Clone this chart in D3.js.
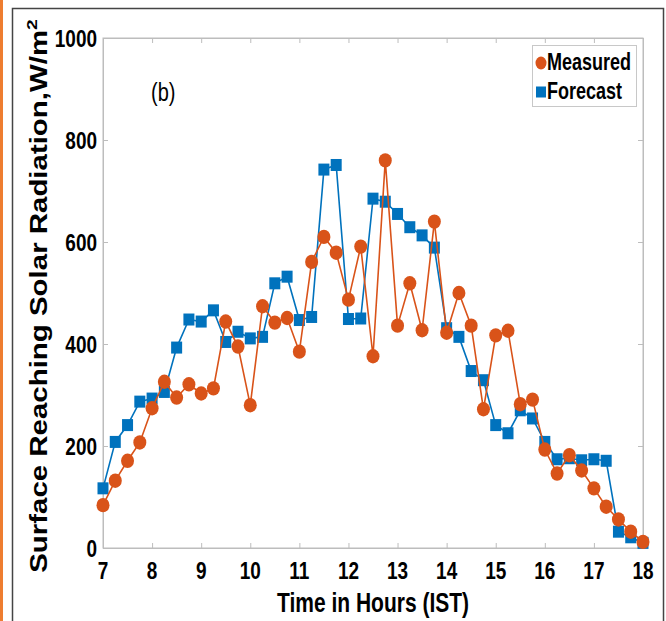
<!DOCTYPE html>
<html><head><meta charset="utf-8">
<script src="https://cdn.jsdelivr.net/npm/d3@7"></script>
<style>body{margin:0;background:#fff}svg{display:block}</style>
</head><body>
<svg id="c" width="666" height="621"></svg>
<script>
const times = [7,7.25,7.5,7.75,8,8.25,8.5,8.75,9,9.25,9.5,9.75,10,10.25,10.5,10.75,11,11.25,11.5,11.75,12,12.25,12.5,12.75,13,13.25,13.5,13.75,14,14.25,14.5,14.75,15,15.25,15.5,15.75,16,16.25,16.5,16.75,17,17.25,17.5,17.75,18];
const measured = [84,132,171,207,274,326,295,321,303,313,444,395,280,474,442,451,385,561,610,579,487,591,376,760,436,519,427,640,422,500,436,272,417,426,282,291,193,146,182,152,117,81,56,32,12];
const forecast = [117,208,241,287,293,306,393,448,444,466,404,424,411,414,519,532,447,453,742,751,449,450,685,679,655,629,613,589,431,414,347,329,241,225,270,254,208,174,176,172,174,171,32,21,10];
const xTicks = [7,8,9,10,11,12,13,14,15,16,17,18];
const yTicks = [0,200,400,600,800,1000];
const seriesNames = ["Measured","Forecast"];

const svg = d3.select("#c");
const FONT = "'Liberation Sans', Arial, sans-serif";
const S = 1.3; // vertical stretch of the reference's text

// frame
svg.append("rect").attr("x",0).attr("y",0).attr("width",3).attr("height",621).attr("fill","#ee7d30");
svg.append("path").attr("d","M12.5,621V8.5H663.5V621").attr("fill","none").attr("stroke","#444").attr("stroke-width",1.5);

const x = d3.scaleLinear().domain([7,18]).range([103,643]);
const y = d3.scaleLinear().domain([0,1000]).range([548,38]);

const axisCol = "#bdbdbd";
svg.append("rect").attr("x",x(7)).attr("y",y(1000)).attr("width",x(18)-x(7)).attr("height",y(0)-y(1000))
  .attr("fill","none").attr("stroke",axisCol).attr("stroke-width",1);

const gx = svg.append("g").attr("transform",`translate(0,${y(0)})`)
  .call(d3.axisBottom(x).tickValues(xTicks).tickSize(-5).tickFormat(""));
const gxt = svg.append("g").attr("transform",`translate(0,${y(1000)})`)
  .call(d3.axisTop(x).tickValues(xTicks).tickSize(-5).tickFormat(""));
const gy = svg.append("g").attr("transform",`translate(${x(7)},0)`)
  .call(d3.axisLeft(y).tickValues(yTicks).tickSize(-5).tickFormat(""));
const gyr = svg.append("g").attr("transform",`translate(${x(18)},0)`)
  .call(d3.axisRight(y).tickValues(yTicks).tickSize(-5).tickFormat(""));
[gx,gxt,gy,gyr].forEach(g=>{g.select(".domain").attr("stroke",axisCol);g.selectAll(".tick line").attr("stroke",axisCol);});

function stext(px,py,str,opts){
  const g = svg.append("g").attr("transform",`translate(${px},${py}) scale(1,${S})`);
  return g.append("text").attr("x",0).attr("y",0).attr("font-family",FONT)
    .attr("font-size",opts.size).attr("font-weight",opts.weight||"bold").attr("fill","#000")
    .attr("text-anchor",opts.anchor||"start").text(str);
}
xTicks.forEach(v=>stext(x(v),y(0)+31,String(v),{size:19,anchor:"middle"}));
yTicks.forEach(v=>stext(x(7)-6,y(v)+9,String(v),{size:19,anchor:"end"}));

stext((x(7)+x(18))/2, 612, "Time in Hours (IST)", {size:21,anchor:"middle"});
const yl = svg.append("g").attr("transform",`translate(47,296) rotate(-90) scale(1.28,1)`)
  .append("text").attr("font-family",FONT).attr("font-size",23).attr("font-weight","bold")
  .attr("text-anchor","middle").attr("fill","#000");
yl.append("tspan").text("Surface Reaching Solar Radiation,W/m");
yl.append("tspan").attr("font-size",15).attr("dy",-10).text("2");

stext(151,101,"(b)",{size:20,weight:"normal"});

const blue = "#0072BD", orange = "#D95319";
const line = d3.line().x((d,i)=>x(times[i])).y(d=>y(d));

svg.append("path").datum(forecast).attr("d",line).attr("fill","none").attr("stroke",blue).attr("stroke-width",1.6);
svg.append("g").selectAll("rect").data(forecast).join("rect")
  .attr("x",(d,i)=>x(times[i])-5.5).attr("y",d=>y(d)-6).attr("width",11).attr("height",12).attr("fill",blue);
svg.append("path").datum(measured).attr("d",line).attr("fill","none").attr("stroke",orange).attr("stroke-width",1.6);
svg.append("g").selectAll("ellipse").data(measured).join("ellipse")
  .attr("cx",(d,i)=>x(times[i])).attr("cy",d=>y(d)).attr("rx",6.5).attr("ry",7.2).attr("fill",orange);

svg.append("rect").attr("x",532.5).attr("y",45.5).attr("width",104).attr("height",61)
  .attr("fill","#fff").attr("stroke","#c8c8c8").attr("stroke-width",1);
const lg = [{n:seriesNames[0],c:orange,yy:63},{n:seriesNames[1],c:blue,yy:92}];
lg.forEach((e,k)=>{
  if(k===0) svg.append("ellipse").attr("cx",541).attr("cy",e.yy).attr("rx",5.5).attr("ry",6.5).attr("fill",e.c);
  else svg.append("rect").attr("x",536).attr("y",e.yy-5.5).attr("width",10).attr("height",11).attr("fill",e.c);
  stext(547,e.yy+7,e.n,{size:18});
});
</script>
</body></html>
